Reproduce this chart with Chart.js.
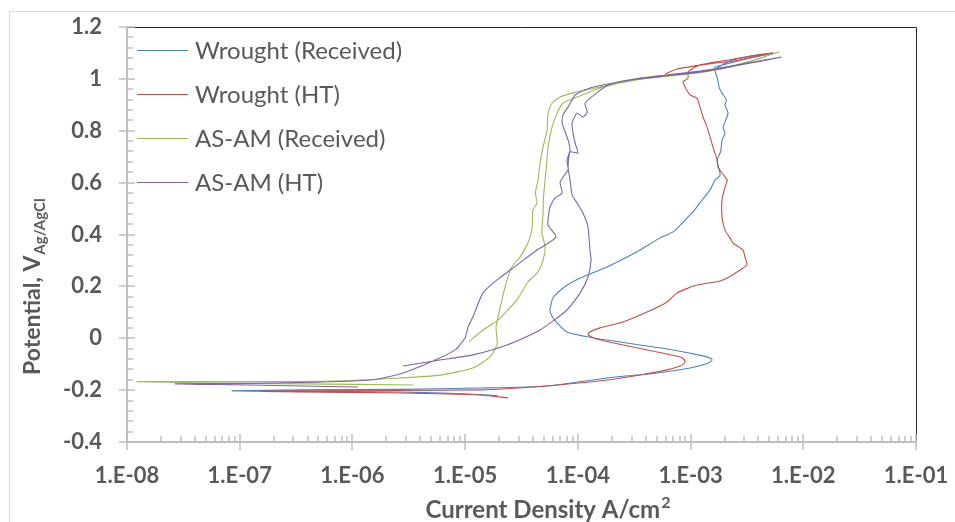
<!DOCTYPE html>
<html>
<head>
<meta charset="utf-8">
<script src="https://cdn.jsdelivr.net/npm/chart.js@4.4.1/dist/chart.umd.min.js"></script>
<style>
  html, body { margin: 0; padding: 0; background: #fff; }
  #wrap { position: relative; width: 955px; height: 522px; overflow: hidden; }
  #frame { position: absolute; left: 9px; top: 11px; width: 1000px; height: 600px; border: 1px solid #d9d9d9; }
  canvas { position: absolute; left: 0; top: 0; }
</style>
</head>
<body>
<div id="wrap">
  <div id="frame"></div>
  <canvas id="chart" width="955" height="522"></canvas>
</div>
<script>
// series labels
const seriesNames = ['Wrought (Received)', 'Wrought (HT)', 'AS-AM (Received)', 'AS-AM (HT)'];
const seriesColors = ['#4F81BD', '#C0504D', '#9BBB59', '#8064A2'];

// Wrought (Received): current density (A/cm2) and potential (V)
const wroughtRecI = [1.96e-5, 1.1e-5, 2.64e-6, 3.4e-7, 8.55e-8, 3.4e-7, 2.64e-6, 1.35e-5, 5.33e-5, 1.82e-4, 5.05e-4, 9.9e-4, 1.4e-3, 1.5e-3, 1.55e-3,
  1.5e-3, 1.29e-3, 7.0e-4, 3.56e-4, 1.82e-4, 1.11e-4, 8.0e-5, 6.54e-5, 5.9e-5, 5.66e-5, 5.8e-5, 6.0e-5, 7.4e-5, 1.05e-4, 1.82e-4, 2.73e-4, 3.56e-4, 5.36e-4,
  7.0e-4, 8.4e-4, 1.05e-3, 1.21e-3, 1.49e-3, 1.65e-3, 1.83e-3, 1.72e-3, 1.85e-3, 1.9e-3, 2.02e-3, 1.95e-3, 2.15e-3, 2.02e-3, 2.08e-3,
  1.9e-3, 1.8e-3, 1.72e-3, 1.65e-3, 2.11e-3, 3.37e-3, 5.4e-3, 3.3e-3, 1.6e-3];
const wroughtRecV = [-0.222, -0.215, -0.207, -0.205, -0.203, -0.199, -0.197, -0.192, -0.184, -0.153, -0.134, -0.115, -0.097, -0.091, -0.084,
  -0.077, -0.068, -0.045, -0.026, -0.007, 0.009, 0.024, 0.059, 0.085, 0.109, 0.132, 0.155, 0.194, 0.232, 0.275, 0.313, 0.340, 0.387,
  0.410, 0.444, 0.487, 0.522, 0.572, 0.610, 0.629, 0.687, 0.720, 0.764, 0.790, 0.814, 0.868, 0.900, 0.919,
  0.945, 0.965, 1.007, 1.034, 1.065, 1.088, 1.100, 1.080, 1.045];

// Wrought (HT)
const wroughtHtI = [2.4e-5, 1.35e-5, 2.64e-6, 3.4e-7, 1.55e-7, 6.0e-7, 1.35e-5, 4.62e-5, 1.82e-4, 3.56e-4, 6.19e-4, 8.07e-4, 8.7e-4, 8.94e-4,
  8.7e-4, 8.07e-4, 5.05e-4, 2.52e-4, 1.48e-4, 1.23e-4, 1.28e-4, 1.57e-4, 2.52e-4, 4.11e-4, 6.19e-4, 7.59e-4, 1.14e-3, 1.83e-3, 2.11e-3,
  2.75e-3, 3.17e-3, 3.05e-3, 2.92e-3, 2.38e-3, 2.24e-3, 2.02e-3, 1.9e-3, 1.9e-3, 2.02e-3, 2.11e-3, 1.9e-3, 1.75e-3, 1.72e-3, 1.58e-3,
  1.49e-3, 1.4e-3, 1.29e-3, 1.21e-3, 1.14e-3, 9.9e-4, 8.94e-4, 8.57e-4, 9.5e-4, 9.5e-4, 1.21e-3, 2.75e-3, 5.4e-3, 2.75e-3, 1.4e-3,
  7.59e-4, 5.94e-4];
const wroughtHtV = [-0.230, -0.219, -0.211, -0.207, -0.205, -0.203, -0.199, -0.186, -0.161, -0.142, -0.122, -0.107, -0.099, -0.091,
  -0.080, -0.072, -0.053, -0.026, -0.003, 0.013, 0.024, 0.040, 0.063, 0.101, 0.140, 0.175, 0.205, 0.221, 0.232,
  0.263, 0.283, 0.310, 0.340, 0.367, 0.387, 0.417, 0.468, 0.533, 0.583, 0.610, 0.637, 0.660, 0.687, 0.737,
  0.776, 0.814, 0.853, 0.892, 0.926, 0.938, 0.969, 0.988, 1.003, 1.027, 1.054, 1.080, 1.100, 1.073, 1.057,
  1.038, 1.019];

// AS-AM (Received)
const asamRecI = [3.45e-6, 3.4e-7, 4.4e-8, 1.23e-8, 1.23e-7, 6.7e-7, 2.64e-6, 5.98e-6, 1.17e-5, 1.66e-5, 1.92e-5, 1.92e-5, 1.88e-5,
  1.96e-5, 2.12e-5, 2.35e-5, 2.6e-5, 3.07e-5, 3.54e-5, 3.7e-5, 3.93e-5, 4.0e-5, 4.34e-5, 4.2e-5, 4.43e-5, 4.62e-5, 4.91e-5, 5.33e-5,
  5.44e-5, 5.91e-5, 6.95e-5, 9.06e-5, 1.57e-4, 3.56e-4, 1.21e-3, 2.75e-3, 6.1e-3, 2.7e-3, 1.2e-3, 3.5e-4, 1.6e-4, 9.84e-5, 7.4e-5,
  6.54e-5, 5.9e-5, 5.44e-5, 5.3e-5, 5.12e-5, 4.95e-5, 4.91e-5, 4.81e-5, 5.12e-5, 4.91e-5, 4.43e-5, 3.61e-5, 2.88e-5, 1.96e-5,
  1.44e-5, 1.08e-5];
const asamRecV = [-0.180, -0.176, -0.172, -0.167, -0.167, -0.165, -0.153, -0.142, -0.115, -0.072, -0.026, -0.007, 0.043,
  0.082, 0.148, 0.225, 0.275, 0.313, 0.360, 0.379, 0.429, 0.495, 0.522, 0.560, 0.610, 0.676, 0.737, 0.803,
  0.868, 0.907, 0.930, 0.946, 0.969, 1.000, 1.027, 1.057, 1.104, 1.054, 1.024, 0.998, 0.966, 0.930, 0.907,
  0.868, 0.814, 0.737, 0.680, 0.610, 0.540, 0.483, 0.406, 0.352, 0.302, 0.256, 0.217, 0.148, 0.070,
  0.032, -0.014];

// AS-AM (HT)
const asamHtI = [1.12e-6, 3.43e-7, 1.23e-7, 2.67e-8, 1.23e-7, 4.85e-7, 1.43e-6, 2.64e-6, 5.19e-6, 8.13e-6, 9.97e-6, 1.06e-5, 1.17e-5,
  1.44e-5, 1.92e-5, 2.88e-5, 4.34e-5, 6.41e-5, 5.44e-5, 5.66e-5, 6.28e-5, 7.25e-5, 6.95e-5, 7.4e-5, 8.19e-5, 8.02e-5, 8.53e-5,
  8.19e-5, 7.25e-5, 7.4e-5, 8.19e-5, 8.89e-5, 9.45e-5, 1.28e-4, 2.05e-4, 3.56e-4, 1.4e-3, 6.35e-3, 1.38e-3, 3.5e-4, 1.9e-4, 1.16e-4,
  1.21e-4, 1.11e-4, 9.84e-5, 8.89e-5, 9.06e-5, 9.45e-5, 1.0e-4, 8.53e-5, 8.19e-5, 8.53e-5, 8.89e-5, 9.84e-5, 1.11e-4, 1.23e-4,
  1.28e-4, 1.31e-4, 1.23e-4, 1.05e-4, 8.0e-5, 4.62e-5, 2.35e-5, 1.17e-5, 5.98e-6, 2.81e-6];
const asamHtV = [-0.188, -0.184, -0.180, -0.176, -0.174, -0.169, -0.161, -0.138, -0.088, -0.045, 0.001, 0.043, 0.082,
  0.175, 0.225, 0.282, 0.340, 0.390, 0.437, 0.506, 0.541, 0.560, 0.599, 0.622, 0.649, 0.687, 0.726,
  0.764, 0.830, 0.861, 0.892, 0.919, 0.938, 0.965, 0.984, 1.003, 1.034, 1.084, 1.030, 1.000, 0.978, 0.907,
  0.872, 0.853, 0.868, 0.830, 0.791, 0.753, 0.714, 0.718, 0.660, 0.610, 0.552, 0.522, 0.483, 0.429,
  0.340, 0.302, 0.236, 0.175, 0.109, 0.032, -0.026, -0.064, -0.084, -0.107];

// axis ticks
const xDecades = [-8, -7, -6, -5, -4, -3, -2, -1];
const yMin = -0.4, yMax = 1.2, yStep = 0.2, yMinorStep = 0.04;

const FONT = 'Lato, "Open Sans", sans-serif';
const TEXT = '#595959';
const AXIS = '#bfbfbf';

function pts(xs, ys) {
  return xs.map((x, i) => ({ x: x, y: ys[i] }));
}

const allI = [wroughtRecI, wroughtHtI, asamRecI, asamHtI];
const allV = [wroughtRecV, wroughtHtV, asamRecV, asamHtV];

const datasets = seriesNames.map((name, k) => ({
  label: name,
  data: pts(allI[k], allV[k]),
  borderColor: seriesColors[k],
  backgroundColor: seriesColors[k],
  borderWidth: 1.1,
  pointRadius: 0,
  showLine: true,
  tension: 0.2,
  order: 4 - k
}));

// axes, frame, legend and titles drawn on top of the chart
const decorations = {
  id: 'decorations',
  afterDraw(chart) {
    const ctx = chart.ctx;
    const a = chart.chartArea;
    const xs = chart.scales.x, ys = chart.scales.y;
    ctx.save();

    // black frame on top and right
    ctx.strokeStyle = '#262626';
    ctx.lineWidth = 1;
    ctx.beginPath();
    ctx.moveTo(a.left, a.top + 0.5);
    ctx.lineTo(a.right + 0.5, a.top + 0.5);
    ctx.lineTo(a.right + 0.5, a.bottom);
    ctx.stroke();

    // gray axes
    ctx.strokeStyle = AXIS;
    ctx.lineWidth = 2;
    ctx.beginPath();
    ctx.moveTo(a.left, a.top);
    ctx.lineTo(a.left, a.bottom);
    ctx.lineTo(a.right + 1, a.bottom);
    ctx.stroke();

    // x ticks
    ctx.lineWidth = 1.5;
    ctx.beginPath();
    xDecades.forEach(e => {
      const px = Math.round(xs.getPixelForValue(Math.pow(10, e)));
      ctx.moveTo(px, a.bottom - 8);
      ctx.lineTo(px, a.bottom + 8);
      if (e < -1) {
        for (let m = 2; m <= 9; m++) {
          const mp = Math.round(xs.getPixelForValue(m * Math.pow(10, e)));
          ctx.moveTo(mp, a.bottom - 6);
          ctx.lineTo(mp, a.bottom);
        }
      }
    });
    // y ticks
    const nMinor = Math.round((yMax - yMin) / yMinorStep);
    for (let i = 0; i <= nMinor; i++) {
      const v = yMin + i * yMinorStep;
      const py = Math.round(ys.getPixelForValue(v));
      if (i % 5 === 0) {
        ctx.moveTo(a.left - 8, py);
        ctx.lineTo(a.left + 8, py);
      } else {
        ctx.moveTo(a.left, py);
        ctx.lineTo(a.left + 6, py);
      }
    }
    ctx.stroke();

    // legend inside the plot
    ctx.font = '24px ' + FONT;
    ctx.textBaseline = 'middle';
    ctx.textAlign = 'left';
    seriesNames.forEach((name, k) => {
      const ly = 50 + k * 44;
      ctx.strokeStyle = seriesColors[k];
      ctx.lineWidth = 1;
      ctx.beginPath();
      ctx.moveTo(137, ly + 0.5);
      ctx.lineTo(188, ly + 0.5);
      ctx.stroke();
      ctx.fillStyle = TEXT;
      ctx.fillText(name, 195, ly + 1);
    });

    // x axis title with superscript
    ctx.fillStyle = TEXT;
    ctx.textBaseline = 'alphabetic';
    ctx.textAlign = 'left';
    ctx.font = 'bold 24px ' + FONT;
    const xt = 'Current Density A/cm';
    const xw = ctx.measureText(xt).width;
    ctx.font = 'bold 16px ' + FONT;
    const sw = ctx.measureText('2').width;
    const x0 = 548 - (xw + sw + 1) / 2;
    ctx.font = 'bold 24px ' + FONT;
    ctx.fillText(xt, x0, 518);
    ctx.font = 'bold 16px ' + FONT;
    ctx.fillText('2', x0 + xw + 1, 508);

    // y axis title with subscript
    ctx.translate(40, 375);
    ctx.rotate(-Math.PI / 2);
    ctx.font = 'bold 23px ' + FONT;
    const main = 'Potential, V';
    ctx.fillText(main, 0, 0);
    const w = ctx.measureText(main).width;
    ctx.font = 'bold 15px ' + FONT;
    ctx.fillText('Ag/AgCl', w + 1, 5);

    ctx.restore();
  }
};

function decadeLabel(v) {
  const e = Math.round(Math.log10(v));
  if (Math.abs(Math.log10(v) - e) > 1e-6) return '';
  return '1.E' + (e < 0 ? '-' : '+') + String(Math.abs(e)).padStart(2, '0');
}

new Chart(document.getElementById('chart'), {
  type: 'scatter',
  data: { datasets: datasets },
  options: {
    responsive: false,
    animation: false,
    layout: { padding: { left: 0, top: 27, right: 39, bottom: 0 } },
    plugins: {
      legend: { display: false },
      tooltip: { enabled: false }
    },
    scales: {
      x: {
        type: 'logarithmic',
        min: 1e-8,
        max: 1e-1,
        grid: { display: false, drawTicks: false },
        border: { display: false },
        ticks: {
          autoSkip: false,
          maxRotation: 0,
          padding: 21,
          color: TEXT,
          font: { family: FONT, size: 22, weight: 'bold' },
          callback: v => decadeLabel(v)
        },
        afterFit: s => { s.height = 80; s.paddingLeft = 0; s.paddingRight = 0; }
      },
      y: {
        min: yMin,
        max: yMax,
        grid: { display: false, drawTicks: false },
        border: { display: false },
        ticks: {
          stepSize: yStep,
          padding: 25,
          color: TEXT,
          font: { family: FONT, size: 22, weight: 'bold' },
          callback: v => String(Math.round(v * 10) / 10)
        },
        afterFit: s => { s.width = 127; s.paddingTop = 0; s.paddingBottom = 0; }
      }
    }
  },
  plugins: [decorations]
});
</script>
</body>
</html>
